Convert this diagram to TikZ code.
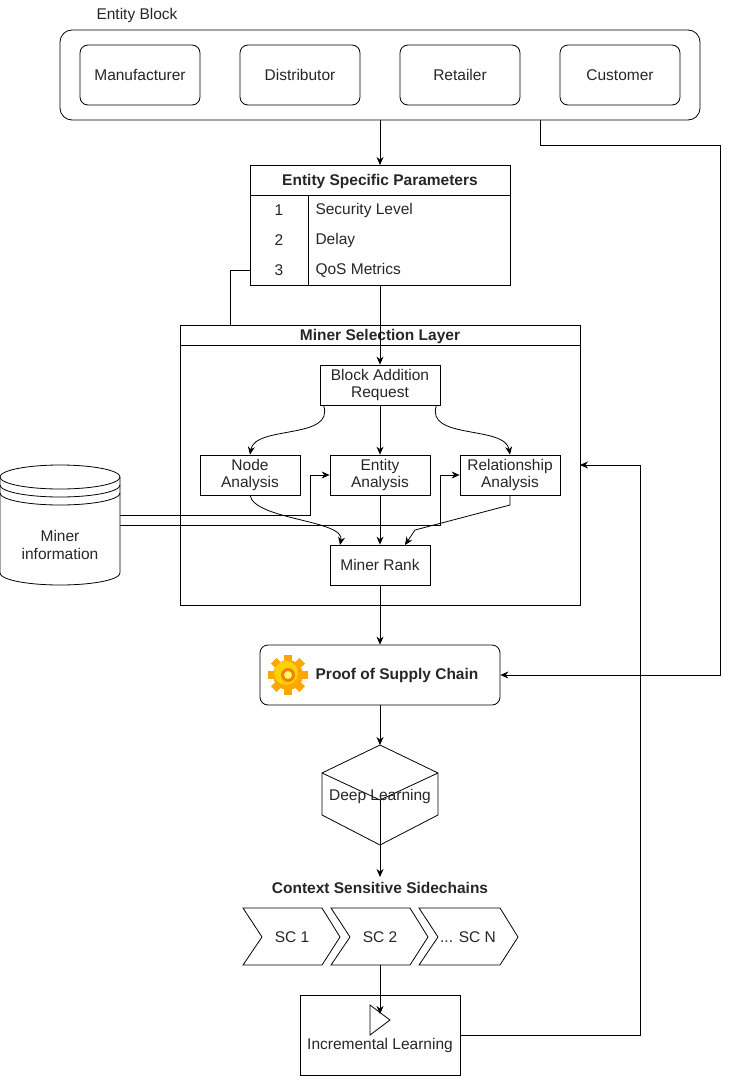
\documentclass[tikz,border=0pt]{standalone}
\usepackage{fontspec}
\setmainfont{Liberation Sans}
\usetikzlibrary{arrows.meta,shapes.geometric}
\begin{document}
\begin{tikzpicture}[x=1pt,y=-1pt,
  every node/.style={font=\fontsize{15.5}{17.5}\selectfont,text=black!85},
  box/.style={draw,thick,minimum width=#1,align=center,inner sep=1pt},
  rbox/.style={draw,thick,rounded corners=8pt,minimum width=120pt,minimum height=60pt},
  arr/.style={-{Stealth[length=8pt,width=7pt]},thick},
  ln/.style={thick}]
\useasboundingbox (0,0) rectangle (729,1076);
% Entity block
\node[anchor=west] (eblab) at (93,15) {Entity Block};
\draw[thick,rounded corners=12pt] (60,30) rectangle (700,120);
\coordinate (ebbot) at (380,120);
\coordinate (ebcus) at (540,120);
\node[rbox] (man) at (140,75) {Manufacturer};
\node[rbox] (dis) at (300,75) {Distributor};
\node[rbox] (ret) at (460,75) {Retailer};
\node[rbox] (cus) at (620,75) {Customer};
% table
\draw[thick] (250,165) rectangle (510,285);
\draw[thick] (250,195) -- (510,195);
\draw[thick] (308,195) -- (308,285);
\node[font=\fontsize{15.5}{17.5}\selectfont\bfseries] (tabh) at (380,181) {Entity Specific Parameters};
\coordinate (tabtop) at (380,165);
\coordinate (tabbot) at (380,285);
\coordinate (tabl) at (250,270);
\node (n1) at (279,210) {1}; \node[anchor=west] (t1) at (312,210) {Security Level};
\node (n2) at (279,240) {2}; \node[anchor=west] (t2) at (312,240) {Delay};
\node (n3) at (279,270) {3}; \node[anchor=west] (t3) at (312,270) {QoS Metrics};
\draw[arr] (ebbot) -- (tabtop);
% miner selection layer
\draw[thick] (180,325) rectangle (580,605);
\draw[thick] (180,345) -- (580,345);
\node[font=\fontsize{15.5}{17.5}\selectfont\bfseries] (msl) at (380,336) {Miner Selection Layer};
\coordinate (mslr) at (580,465);
\draw[ln] (tabl) -- (230,270) -- (230,325);
\node[box=120pt,minimum height=40pt] (bar) at (380,385) {Block Addition\\Request};
\draw[arr] (tabbot) -- (bar);
\node[box=100pt,minimum height=40pt] (na) at (250,475) {Node\\Analysis};
\node[box=100pt,minimum height=40pt] (ea) at (380,475) {Entity\\Analysis};
\node[box=100pt,minimum height=40pt] (ra) at (510,475) {Relationship\\Analysis};
\node[box=100pt,minimum height=40pt] (mr) at (380,565) {Miner Rank};
\draw[arr] (bar.south west) ++(4,0) .. controls (335,440) and (255,425) .. (na.north);
\draw[arr] (bar) -- (ea);
\draw[arr] (bar.south east) ++(-4,0) .. controls (425,440) and (505,425) .. (ra.north);
\draw[arr] (na.south) .. controls (255,520) and (345,520) .. (340,545);
\draw[arr] (ea) -- (mr);
\draw[arr] (ra.south) -- (510,505) -- (415,530) -- (405,545);
% cylinder
\draw[thick] (0,477) -- (0,573) arc[start angle=180,end angle=0,x radius=60,y radius=12] -- (120,477);
\draw[thick] (60,477) ellipse[x radius=60,y radius=12];
\draw[thick] (0,485) arc[start angle=180,end angle=0,x radius=60,y radius=12];
\draw[thick] (0,493) arc[start angle=180,end angle=0,x radius=60,y radius=12];
\node[align=center] (mi) at (60,545) {Miner\\information};
\draw[arr] (120,515) -- (310,515) -- (310,475) -- (ea.west);
\draw[arr] (120,525) -- (440,525) -- (440,475) -- (ra.west);
% PoSC
\node[rbox,minimum width=240pt] (posc) at (380,675) {};
\node[font=\fontsize{15.5}{17.5}\selectfont\bfseries] (posct) at (397,675) {Proof of Supply Chain};
\begin{scope}[shift={(288,675)}]
 \foreach \a in {0,45,...,315}
   \fill[orange!70!yellow,rotate=\a] (-4,-20) rectangle (4,-10);
 \fill[orange!70!yellow] (0,0) circle (15);
 \fill[yellow!70!orange] (-2,-2) circle (12);
 \fill[orange!80!brown] (0,0) circle (7);
 \fill[yellow!60] (0,0) circle (4);
\end{scope}
\draw[arr] (mr) -- (posc);
\draw[arr] (ebcus) -- (540,145) -- (720,145) -- (720,675) -- (posc.east);
% Deep learning cube
\coordinate (dlt) at (380,745);
\coordinate (dlb) at (380,845);
\draw[thick] (dlt) -- (438,773) -- (438,815) -- (dlb) -- (322,815) -- (322,773) -- cycle;
\draw[thick] (322,773) -- (380,800) -- (438,773);
\draw[thick] (380,800) -- (dlb);
\node (dl) at (380,796) {Deep Learning};
\draw[arr] (posc) -- (dlt);
\node[font=\fontsize{15.5}{17.5}\selectfont\bfseries] (css) at (380,888) {Context Sensitive Sidechains};
\coordinate (csstop) at (380,877);
\draw[arr] (dlb) -- (csstop);
% chevrons
\draw[thick] (243,908) -- (322,908) -- (340,937) -- (322,965) -- (243,965) -- (262,937) -- cycle;
\draw[thick] (331,908) -- (410,908) -- (428,937) -- (410,965) -- (331,965) -- (350,937) -- cycle;
\draw[thick] (419,908) -- (500,908) -- (518,937) -- (500,965) -- (419,965) -- (438,937) -- cycle;
\node (sc1) at (292,937) {SC 1};
\node (sc2) at (380,937) {SC 2};
\node (scn) at (468,937) {... SC N};
\coordinate (sc2b) at (380,965);
% incremental learning
\node[box=160pt,minimum height=80pt] (il) at (380,1035) {};
\node (ilt) at (380,1045) {Incremental Learning};
\draw[thick] (370,1005) -- (390,1020) -- (370,1035) -- cycle;
\draw[arr] (sc2b) -- (380,1014);
\draw[arr] (il.east) -- (640,1035) -- (640,465) -- (mslr);
\end{tikzpicture}
\end{document}
